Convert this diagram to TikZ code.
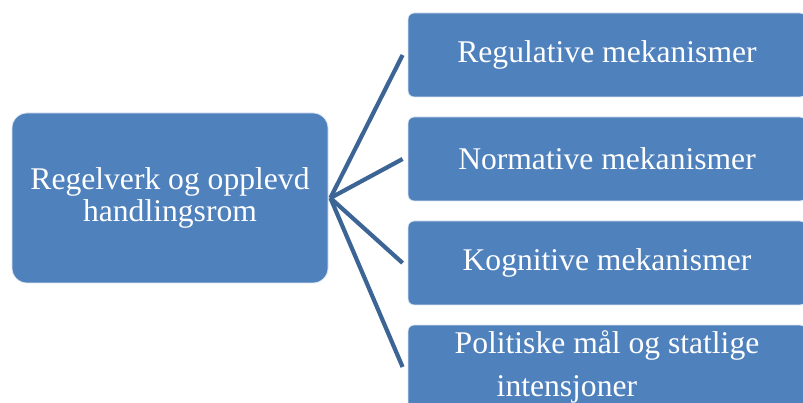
\documentclass[tikz,border=0pt]{standalone}
\usepackage{fontspec}
\setmainfont{Liberation Serif}
\definecolor{boxblue}{HTML}{4F81BD}
\definecolor{boxedge}{HTML}{DCE6F2}
\definecolor{linkblue}{HTML}{3C6494}
\begin{document}
\begin{tikzpicture}[x=1pt,y=-1pt,
  box/.style={fill=boxblue, draw=boxedge, line width=0.8pt, text=white,
    font=\fontsize{31.6}{43}\selectfont, inner sep=0pt},
  rbox/.style={box, rounded corners=6pt, minimum width=398pt, minimum height=84pt},
  link/.style={draw=linkblue, line width=4.2pt}]
\useasboundingbox (0,0) rectangle (803,403);
\clip (0,0) rectangle (803,403);
\node[box, rounded corners=15pt, minimum width=316pt, minimum height=170pt,
  align=center, font=\fontsize{31.6}{31.5}\selectfont] (L) at (170,198)
  {Regelverk og opplevd\\handlingsrom};
\node[rbox] (R1) at (607,55) {Regulative mekanismer};
\node[rbox] (R2) at (607,159) {Normative mekanismer};
\node[rbox] (R3) at (607,263) {Kognitive mekanismer};
\node[rbox, align=left] (R4) at (607,367)
  {Politiske mål og statlige\\\hspace*{42pt}intensjoner};
\foreach \r in {R1,R2,R3,R4}
  \draw[link] ([xshift=2pt]L.east) -- ([xshift=-5pt]\r.west);
\end{tikzpicture}
\end{document}
